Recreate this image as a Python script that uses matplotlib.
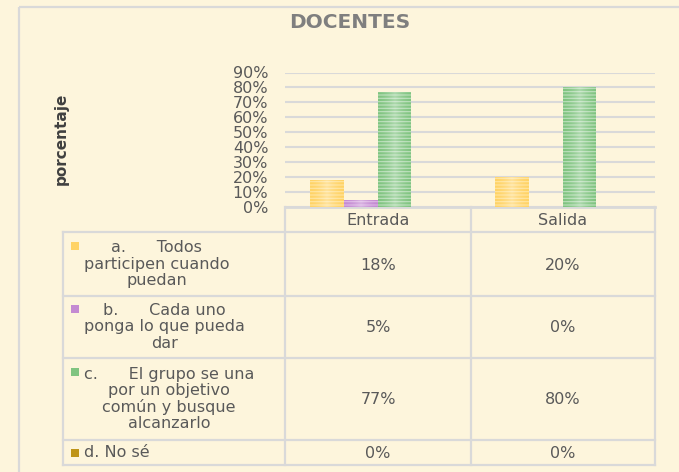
import matplotlib
matplotlib.use("Agg")
import matplotlib.pyplot as plt
import numpy as np
from matplotlib.patches import Rectangle

# ---- data ----
categories = ["Entrada", "Salida"]
series_labels = ["a.      Todos\nparticipen cuando\npuedan",
                 "b.      Cada uno\nponga lo que pueda\ndar",
                 "c.      El grupo se una\npor un objetivo\ncomún y busque\nalcanzarlo",
                 "d. No sé"]
series_a = [0.18, 0.20]
series_b = [0.05, 0.00]
series_c = [0.77, 0.80]
series_d = [0.00, 0.00]
yticks = [0.0, 0.1, 0.2, 0.3, 0.4, 0.5, 0.6, 0.7, 0.8, 0.9]
ytick_labels = ["0%", "10%", "20%", "30%", "40%", "50%", "60%", "70%", "80%", "90%"]
title = "DOCENTES"
ylabel = "porcentaje"

# ---- style ----
W, H = 679, 472
BG = "#FDF5DC"
GRID = "#D9D9D9"
TXT = "#595959"
face_cols = ["#FFD366", "#C48AD2", "#80C480", "#BE9418"]
hatch_cols = ["#FFE6A0", "#DDB5E6", "#BCE0BC", "#DDBE60"]

plt.rcParams["hatch.linewidth"] = 0.8

fig = plt.figure(figsize=(W / 100, H / 100), dpi=100, facecolor=BG)

# overlay axes in pixel coords
ov = fig.add_axes([0, 0, 1, 1])
ov.set_xlim(0, W)
ov.set_ylim(H, 0)
ov.axis("off")
ov.set_facecolor("none")

def px(x0, x1, y0, y1):
    return [x0 / W, 1 - y1 / H, (x1 - x0) / W, (y1 - y0) / H]

# outer chart border
ov.plot([19, W], [7, 7], color=GRID, lw=1.6, solid_capstyle="butt")
ov.plot([19, 19], [7, H], color=GRID, lw=1.6, solid_capstyle="butt")

# title and y label
ov.text(350, 23, title, ha="center", va="center", fontsize=14.5, fontweight="bold",
        color="#7F7F7F")
ov.text(61, 139, ylabel, ha="center", va="center", rotation=90, fontsize=11,
        fontweight="bold", color="#404040")

# bar axes
X0, X1, YT, YB = 285, 655, 72.5, 207
ax = fig.add_axes(px(X0, X1, YT, YB))
ax.set_facecolor("none")
ax.set_ylim(0, 0.9)
ax.set_xlim(-0.5, len(categories) - 0.5)
for s in ax.spines.values():
    s.set_visible(False)
ax.set_yticks(yticks)
ax.set_yticklabels(ytick_labels, fontsize=11.5, color=TXT)
ax.tick_params(axis="y", length=0, pad=12)
ax.set_xticks([])
ax.yaxis.grid(True, color=GRID, lw=1.5)
ax.set_axisbelow(True)

series = [series_a, series_b, series_c, series_d]
bw = 0.182
xs = list(range(len(categories)))
grad = np.zeros((1, 64, 4))
grad[..., :3] = 1.0
grad[0, :, 3] = 0.35 * (1 - np.abs(np.linspace(-1, 1, 64))) ** 1.5
for i, vals in enumerate(series):
    off = (i - 1.5) * bw
    pos = [x + off for x in xs]
    bars = ax.bar(pos, vals, width=bw, color=face_cols[i], edgecolor="none", zorder=2)
    ax.bar(pos, vals, width=bw, fill=False, hatch="-----", edgecolor=hatch_cols[i],
           linewidth=0, zorder=3)
    for b in bars:
        if b.get_height() > 0:
            im = ax.imshow(grad, extent=(b.get_x(), b.get_x() + b.get_width(), 0,
                                         b.get_height()),
                           aspect="auto", zorder=4, interpolation="bilinear")
            im.set_clip_path(b)
ax.set_xlim(-0.5, len(categories) - 0.5)
ax.set_ylim(0, 0.9)

# data table
cols = [63, 285, 471, 655]
rows = [207, 232, 296, 358, 440, 465]
lw = 1.6
ov.plot([cols[1], cols[3]], [rows[0], rows[0]], color=GRID, lw=lw + 0.4)
for yy in rows[1:]:
    ov.plot([cols[0], cols[3]], [yy, yy], color=GRID, lw=lw)
for xx in cols[1:]:
    ov.plot([xx, xx], [rows[0], rows[-1]], color=GRID, lw=lw)
ov.plot([cols[0], cols[0]], [rows[1], rows[-1]], color=GRID, lw=lw)

for j, c in enumerate(categories):
    ov.text((cols[j + 1] + cols[j + 2]) / 2, (rows[0] + rows[1]) / 2 + 1, c,
            ha="center", va="center", fontsize=11.5, color=TXT)

for i, vals in enumerate(series):
    yc = (rows[i + 1] + rows[i + 2]) / 2
    nlines = series_labels[i].count("\n") + 1
    ytop = yc - (nlines - 1) * 18 / 2
    ov.add_patch(Rectangle((71, ytop - 4), 8, 8, facecolor=face_cols[i],
                           edgecolor="none"))
    ov.text(84, yc, series_labels[i], ha="left", va="center", multialignment="center",
            fontsize=11.5, color=TXT, linespacing=1.1)
    for j, v in enumerate(vals):
        ov.text((cols[j + 1] + cols[j + 2]) / 2, yc + 1, f"{round(v * 100)}%",
                ha="center", va="center", fontsize=11.5, color=TXT)

fig.savefig("out.png", dpi=100, facecolor=BG)
